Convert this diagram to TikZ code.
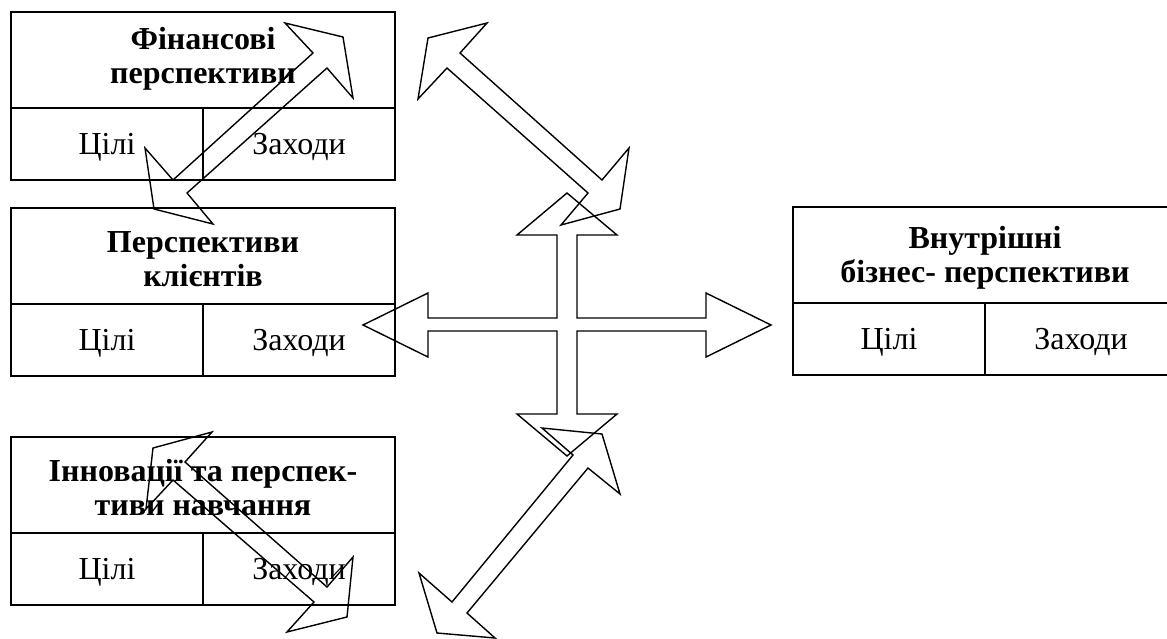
\documentclass[tikz,border=0pt]{standalone}
\usepackage{fontspec}
\setmainfont{Liberation Serif}
\tikzset{
  frame/.style={draw, line width=2pt},
  headtext/.style={font=\fontsize{32}{34}\selectfont\bfseries, align=center},
  celltext/.style={font=\fontsize{32}{34}\selectfont, anchor=base},
  bigarrow/.style={draw, line width=1.4pt, line join=miter},
}
\begin{document}
\begin{tikzpicture}[x=1pt, y=-1pt]
        \useasboundingbox (0,0) rectangle (1167,638);

        % Financial perspectives
        \begin{scope}[shift={(11,12)}]
            \draw[frame] (0,0) rectangle (384,168);
            \draw[frame] (0,96) -- (384,96) (192,96) -- (192,168);
            \node[headtext] (fin-head) at (192,47) {Фінансові\\перспективи};
            \node[celltext] (fin-goal) at (96,142) {Цілі};
            \node[celltext] (fin-act) at (288,142) {Заходи};
        \end{scope}

        % Customer perspectives
        \begin{scope}[shift={(11,208)}]
            \draw[frame] (0,0) rectangle (384,168);
            \draw[frame] (0,96) -- (384,96) (192,96) -- (192,168);
            \node[headtext] (cli-head) at (192,51) {Перспективи\\клієнтів};
            \node[celltext] (cli-goal) at (96,142) {Цілі};
            \node[celltext] (cli-act) at (288,142) {Заходи};
        \end{scope}

        % Innovation and learning
        \begin{scope}[shift={(11,437)}]
            \draw[frame] (0,0) rectangle (384,168);
            \draw[frame] (0,96) -- (384,96) (192,96) -- (192,168);
            \node[headtext] (inn-head) at (192,51) {Інновації та перспек-\\тиви навчання};
            \node[celltext] (inn-goal) at (96,142) {Цілі};
            \node[celltext] (inn-act) at (288,142) {Заходи};
        \end{scope}

        % Internal business perspectives
        \begin{scope}[shift={(793,207)}]
            \draw[frame] (0,0) rectangle (384,168);
            \draw[frame] (0,96) -- (384,96) (192,96) -- (192,168);
            \node[headtext] (int-head) at (192,51) {Внутрішні\\бізнес- перспективи};
            \node[celltext] (int-goal) at (96,142) {Цілі};
            \node[celltext] (int-act) at (288,142) {Заходи};
        \end{scope}

        % Cross in the middle
        \draw[bigarrow] (567,193) -- (617,235) -- (577,235) -- (577,318) -- (706,318)
            -- (706,293) -- (771,325) -- (706,357) -- (706,331) -- (577,331)
            -- (577,414) -- (617,414) -- (567,456) -- (517,414) -- (557,414)
            -- (557,331) -- (428,331) -- (428,357) -- (363,325) -- (428,293)
            -- (428,318) -- (557,318) -- (557,235) -- (517,235) -- cycle;

        % Diagonal double arrows
        \draw[bigarrow] (285,23) -- (343,37) -- (353,98) -- (327,68) -- (187,193)
            -- (213,224) -- (154,209) -- (145,148) -- (173,180) -- (313,53) -- cycle;
        \draw[bigarrow] (487,23) -- (460,53) -- (602,180) -- (629,148) -- (620,209)
            -- (561,225) -- (588,193) -- (447,68) -- (418,99) -- (428,38) -- cycle;
        \draw[bigarrow] (542,428) -- (602,434) -- (620,494) -- (588,468) -- (467,613)
            -- (495,638) -- (437,633) -- (419,573) -- (452,602) -- (573,455) -- cycle;
        \draw[bigarrow] (212,432) -- (185,462) -- (327,587) -- (353,557) -- (347,617)
            -- (287,632) -- (314,602) -- (173,480) -- (146,509) -- (153,448) -- cycle;
    \end{tikzpicture}
\end{document}
